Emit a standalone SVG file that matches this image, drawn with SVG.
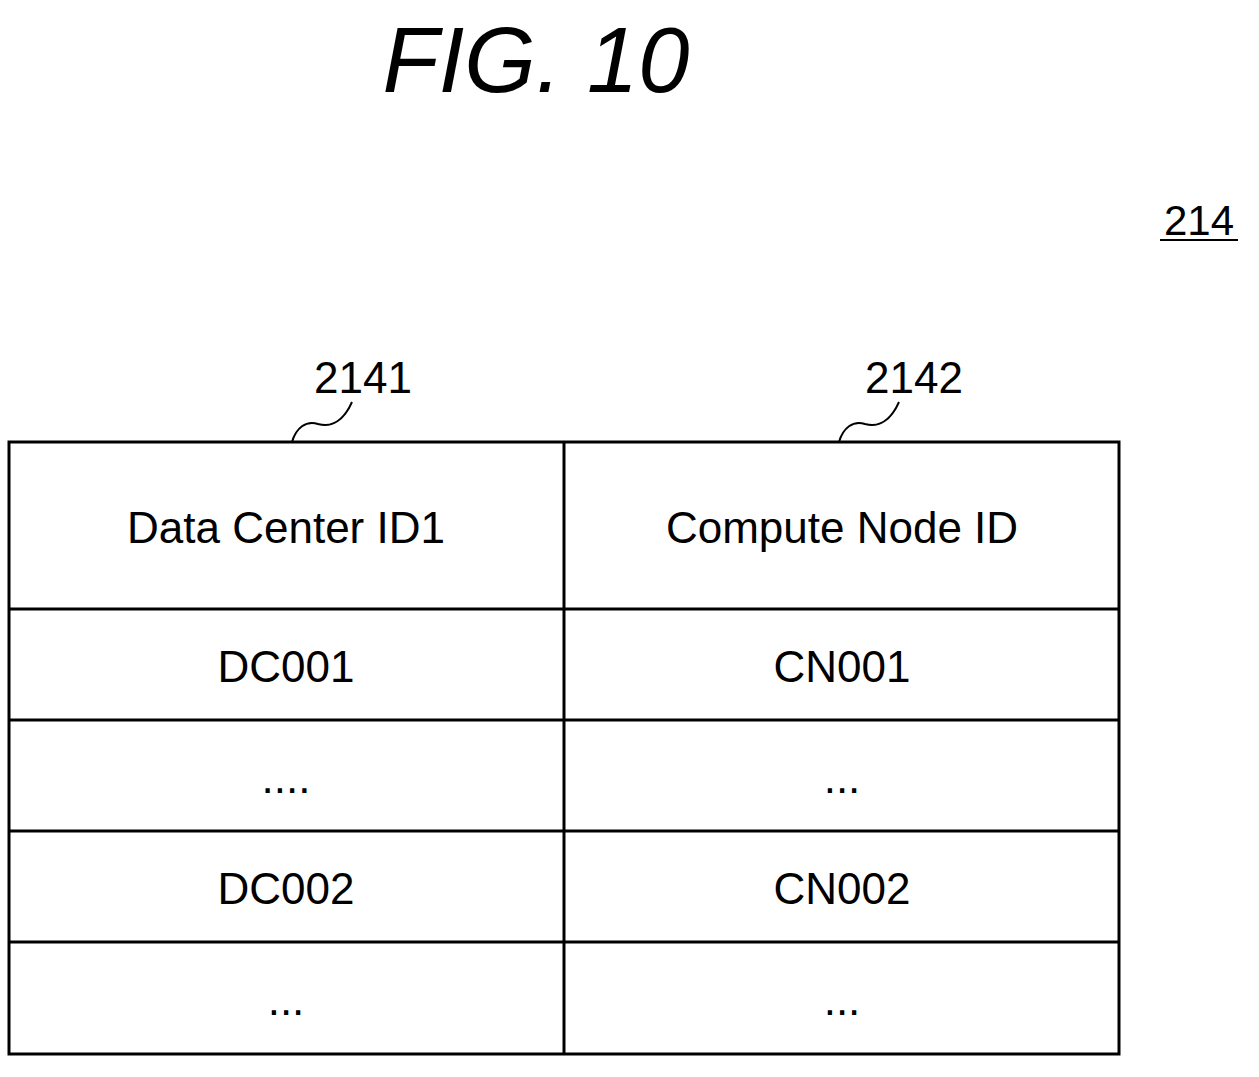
<svg xmlns="http://www.w3.org/2000/svg" width="1259" height="1077" viewBox="0 0 1259 1077">
<style>
text{font-family:"Liberation Sans",Arial,sans-serif;fill:#000}
.c{font-size:44px;text-anchor:middle}
.l{fill:none;stroke:#000;stroke-width:3}
.s{fill:none;stroke:#000;stroke-width:2}
</style>
<rect width="1259" height="1077" fill="#fff"/>
<text x="536" y="92" font-size="92" font-style="italic" text-anchor="middle">FIG. 10</text>
<g id="ref214"><text x="1199" y="235" font-size="42" text-anchor="middle">214</text><line x1="1160" y1="240" x2="1238" y2="240" stroke="#000" stroke-width="2"/></g>
<g id="table">
<rect x="9" y="442" width="1110" height="612" class="l"/>
<line x1="564" y1="442" x2="564" y2="1054" class="l"/>
<line x1="9" y1="609" x2="1119" y2="609" class="l"/>
<line x1="9" y1="720" x2="1119" y2="720" class="l"/>
<line x1="9" y1="831" x2="1119" y2="831" class="l"/>
<line x1="9" y1="942" x2="1119" y2="942" class="l"/>
<text class="c" x="286" y="543">Data Center ID1</text>
<text class="c" x="842" y="543">Compute Node ID</text>
<text class="c" x="286" y="682">DC001</text>
<text class="c" x="842" y="682">CN001</text>
<text class="c" x="286" y="793">....</text>
<text class="c" x="842" y="793">...</text>
<text class="c" x="286" y="904">DC002</text>
<text class="c" x="842" y="904">CN002</text>
<text class="c" x="286" y="1015">...</text>
<text class="c" x="842" y="1015">...</text>
</g>
<g id="connectors">
<path class="s" d="M292 442 C296 428 306 420 318 424 C332 428 344 420 352 402"/>
<path class="s" d="M839 442 C843 428 853 420 865 424 C879 428 891 420 899 402"/>
</g>
<g id="labels">
<text class="c" x="363" y="393">2141</text>
<text class="c" x="914" y="393">2142</text>
</g>
</svg>
